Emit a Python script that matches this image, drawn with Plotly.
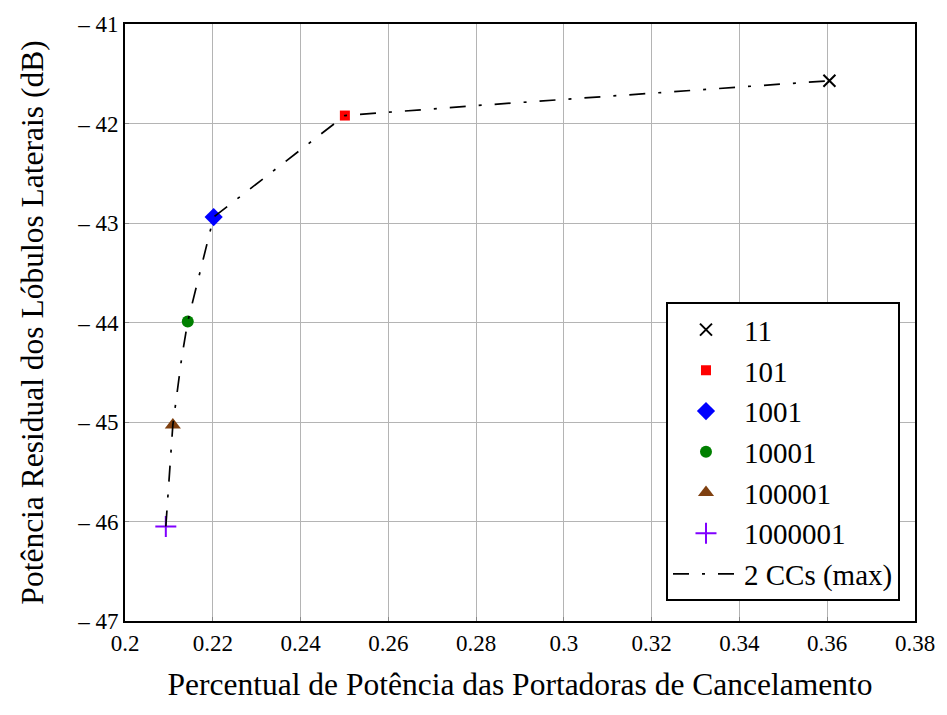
import plotly.graph_objects as go

# Marker series (x: percentual de potência, y: potência residual dB)
names = ["11", "101", "1001", "10001", "100001", "1000001"]
pts_x = [0.3605, 0.2501, 0.2202, 0.2143, 0.2109, 0.2093]
pts_y = [-41.57, -41.92, -42.94, -43.99, -45.03, -46.05]
symbols = ["x-thin-open", "square", "diamond", "circle", "triangle-up", "cross-thin-open"]
colors = ["#000000", "#ff0000", "#0000ff", "#008000", "#7f4010", "#8000ff"]
sizes = [12, 10, 14, 12, 14, 15]

# 2 CCs (max) curve
curve_x = [0.2093, 0.2109, 0.2129, 0.2143, 0.2202, 0.2501, 0.2800, 0.3197, 0.3605]
curve_y = [-46.05, -45.03, -44.36, -43.99, -42.94, -41.92, -41.82, -41.70, -41.57]
curve_name = "2 CCs (max)"

x_ticks = [0.2, 0.22, 0.24, 0.26, 0.28, 0.3, 0.32, 0.34, 0.36, 0.38]
x_ticktext = ["0.2", "0.22", "0.24", "0.26", "0.28", "0.3", "0.32", "0.34", "0.36", "0.38"]
y_ticks = [-47, -46, -45, -44, -43, -42, -41]
y_ticktext = ["\u2013 47", "\u2013 46", "\u2013 45", "\u2013 44", "\u2013 43", "\u2013 42", "\u2013 41"]

font = "Liberation Serif"

fig = go.Figure()
for i, n in enumerate(names):
    lw = 2 if "thin" in symbols[i] else 0
    fig.add_trace(go.Scatter(
        x=[pts_x[i]], y=[pts_y[i]], mode="markers", name=n,
        marker=dict(symbol=symbols[i], color=colors[i], size=sizes[i],
                    line=dict(color=colors[i], width=lw)),
    ))
fig.add_trace(go.Scatter(
    x=curve_x, y=curve_y, mode="lines", name=curve_name,
    line=dict(color="black", width=1.7, dash="16px,13px,3px,13px"),
))

axis_common = dict(
    showgrid=True, gridcolor="#b4b4b4", gridwidth=1.3,
    showline=True, linecolor="black", linewidth=2, mirror=True,
    ticks="inside", ticklen=4, tickcolor="#888", zeroline=False,
    tickfont=dict(family=font, size=23, color="black"),
)
fig.update_xaxes(range=[0.2, 0.38], tickvals=x_ticks, ticktext=x_ticktext,
                 title=dict(text="Percentual de Potência das Portadoras de Cancelamento",
                            font=dict(family=font, size=31.5, color="black"), standoff=18),
                 **axis_common)
fig.update_yaxes(range=[-47, -41], tickvals=y_ticks, ticktext=y_ticktext,
                 title=dict(text="Potência Residual dos Lóbulos Laterais (dB)",
                            font=dict(family=font, size=31.5, color="black"), standoff=24),
                 **axis_common)
fig.update_layout(
    width=947, height=715,
    margin=dict(l=125, r=28, t=17, b=94),
    paper_bgcolor="white", plot_bgcolor="white",
    font=dict(family=font, color="black", size=24),
    legend=dict(x=0.981, y=0.033, xanchor="right", yanchor="bottom",
                bgcolor="white", bordercolor="black", borderwidth=2,
                font=dict(family=font, size=29, color="black"),
                itemwidth=66, tracegroupgap=0),
    showlegend=True,
)
fig.write_html("out.html", config={"displayModeBar": False},
               post_script="document.body.style.margin='0';")
